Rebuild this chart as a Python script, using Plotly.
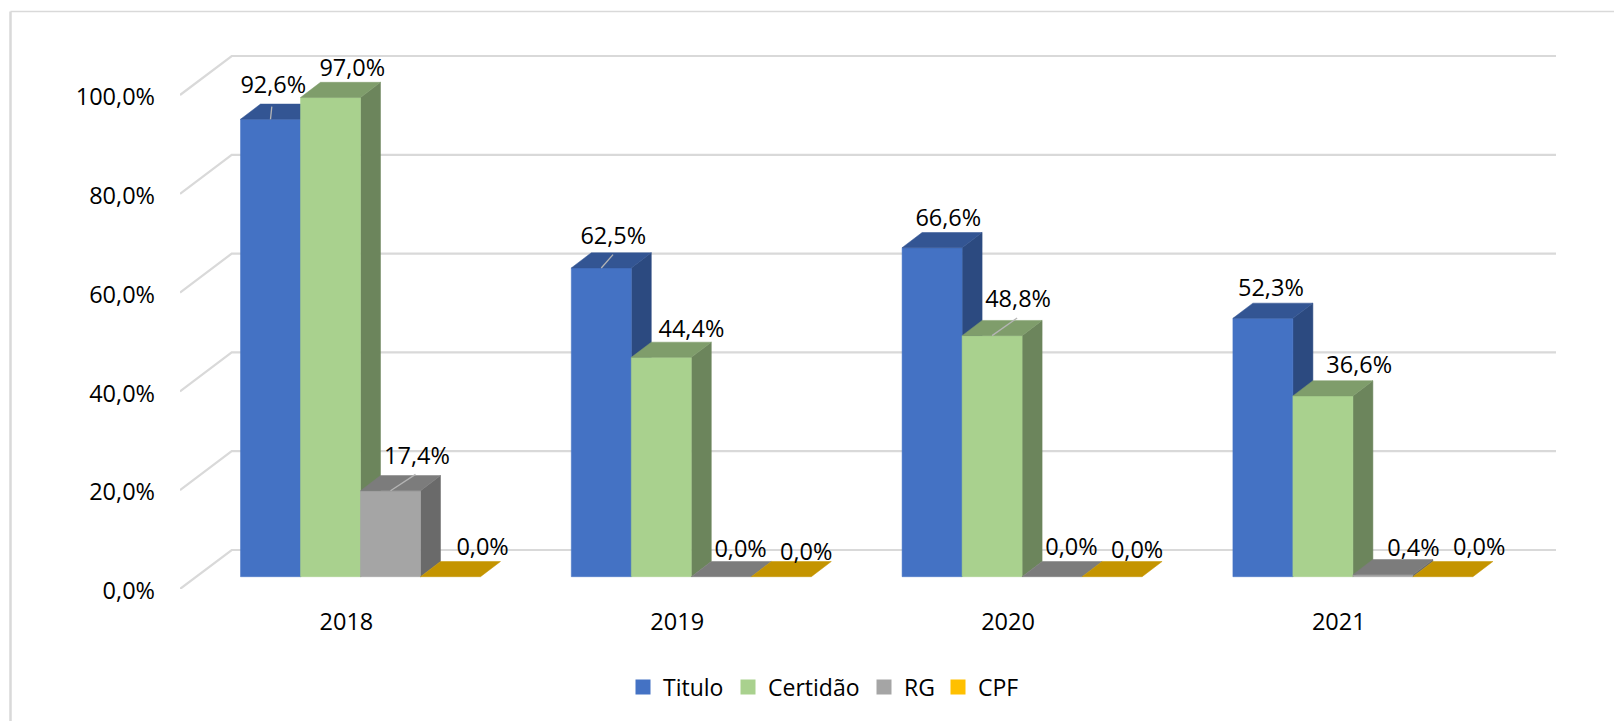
import plotly.graph_objects as go

# ---- data ----
years = ["2018", "2019", "2020", "2021"]
titulo = [92.6, 62.5, 66.6, 52.3]
certidao = [97.0, 44.4, 48.8, 36.6]
rg = [17.4, 0.0, 0.0, 0.4]
cpf = [0.0, 0.0, 0.0, 0.0]
series_names = ["Titulo", "Certidão", "RG", "CPF"]
y_ticks = [0, 20, 40, 60, 80, 100]

# ---- styles ----
front_col = ["#4472C4", "#A9D18E", "#A5A5A5", "#FFC000"]
top_col = ["#335593", "#7F9D6B", "#7C7C7C", "#C49400"]
side_col = ["#2C4A80", "#6C855C", "#6A6A6A", "#A67C00"]
FONT = "Open Sans"
GRID = "#D9D9D9"

# ---- geometry (pixels of the page) ----
W, H = 1614, 721
P_L, P_R, P_B, P_T = 180, 1556, 589, 50
PX_CAT = 330.8          # pixels per category
PX_PCT = 4.94           # pixels per percent
BAR_W = 60.0 / PX_CAT
BAR_START = 60.5 / PX_CAT
BASE = 12.3 / PX_PCT
DEPTH_X, DEPTH_Y = 20 / PX_CAT, 15.2 / PX_PCT
WALL_X, WALL_Y = 51.7 / PX_CAT, 39.0 / PX_PCT

# label offsets from each bar's front-top centre, pixels, per series then year
label_dx = [[2.8, 12, 16.2, 8], [21.8, 30.1, 26, 36.3], [26.5, 19.3, 19.3, 30.6], [32.1, 25, 25, 36.3]]
label_dy = [[32.4, 29.8, 28, 28.6], [27.1, 26.6, 34.6, 29], [32.2, 25.6, 27.6, 24.6], [27.6, 22.5, 24.5, 27.6]]
# leader lines: (series, year) -> pixel offset of the far end
leaders = {(0, 0): (1.3, 12.6), (0, 1): (11.7, 13.3), (1, 2): (25, 17.7), (2, 0): (25, 16.4)}

fig = go.Figure()


def poly(xs, ys, color):
    fig.add_trace(go.Scatter(
        x=xs + xs[:1], y=ys + ys[:1], mode="lines", fill="toself", fillcolor=color,
        line=dict(color=color, width=0.5), showlegend=False, hoverinfo="skip"))


# gridlines on the side and back walls
x_left = -0.5
x_right = -0.5 + (P_R - P_L) / PX_CAT
for t in y_ticks:
    fig.add_trace(go.Scatter(
        x=[x_left, x_left + WALL_X, x_right], y=[t, t + WALL_Y, t + WALL_Y],
        mode="lines", line=dict(color=GRID, width=2.2), showlegend=False, hoverinfo="skip"))

values = [titulo, certidao, rg, cpf]

# bars: side, top and front faces, painted left to right
for c in range(len(years)):
    for s in range(len(values)):
        v = values[s][c]
        x0 = c - 0.5 + BAR_START + s * BAR_W
        x1 = x0 + BAR_W
        top = BASE + v
        if v > 0:
            poly([x1, x1 + DEPTH_X, x1 + DEPTH_X, x1],
                 [BASE, BASE + DEPTH_Y, top + DEPTH_Y, top], side_col[s])
            poly([x0, x1, x1, x0], [BASE, BASE, top, top], front_col[s])
        # the zero-height faces still show their top
        poly([x0, x1, x1 + DEPTH_X, x0 + DEPTH_X],
             [top, top, top + DEPTH_Y, top + DEPTH_Y], top_col[s])

# leader lines
for (s, c), (dx, dy) in leaders.items():
    xc = c - 0.5 + BAR_START + (s + 0.5) * BAR_W
    yt = BASE + values[s][c]
    fig.add_trace(go.Scatter(
        x=[xc, xc + dx / PX_CAT], y=[yt, yt + dy / PX_PCT], mode="lines",
        line=dict(color="#B5B5B5", width=1.3), showlegend=False, hoverinfo="skip"))

# data labels
for s in range(len(values)):
    xs, ys, txt = [], [], []
    for c in range(len(years)):
        v = values[s][c]
        xs.append(c - 0.5 + BAR_START + (s + 0.5) * BAR_W + label_dx[s][c] / PX_CAT)
        ys.append(BASE + v + label_dy[s][c] / PX_PCT)
        txt.append(f"{v:.1f}%".replace(".", ","))
    fig.add_trace(go.Scatter(
        x=xs, y=ys, text=txt, mode="text", textposition="middle center",
        textfont=dict(family=FONT, size=23.5, color="#000000"),
        showlegend=False, hoverinfo="skip"))

# legend: one legend per entry so the spacing can follow the reference
legend_x = [635, 740, 876, 950]
layout_legends = {}
for s, name in enumerate(series_names):
    key = "legend" if s == 0 else f"legend{s + 1}"
    fig.add_trace(go.Scatter(
        x=[None], y=[None], mode="markers", name=name, legend=key,
        marker=dict(symbol="square", size=15, color=front_col[s]), showlegend=True))
    layout_legends[key] = dict(
        x=(legend_x[s] - 12 - P_L) / (P_R - P_L), y=(P_B - 687) / (P_B - P_T),
        xanchor="left", yanchor="middle", orientation="h",
        bgcolor="rgba(0,0,0,0)", font=dict(family=FONT, size=23, color="#000000"),
        itemclick=False, itemdoubleclick=False)

fig.update_layout(
    width=W, height=H,
    margin=dict(l=P_L, r=W - P_R, t=P_T, b=H - P_B, autoexpand=False),
    paper_bgcolor="#FFFFFF", plot_bgcolor="#FFFFFF",
    font=dict(family=FONT, size=23, color="#000000"),
    xaxis=dict(
        range=[x_left, x_right], tickmode="array", tickvals=list(range(len(years))),
        ticktext=years, showgrid=False, zeroline=False, showline=False, ticks="",
        ticklabelstandoff=16, ticklabelshift=1, tickfont=dict(family=FONT, size=23.5), fixedrange=True),
    yaxis=dict(
        range=[0, (P_B - P_T) / PX_PCT], tickmode="array", tickvals=y_ticks,
        ticktext=[f"{t:.1f}%".replace(".", ",") for t in y_ticks],
        showgrid=False, zeroline=False, showline=False, ticks="",
        ticklabelstandoff=24, ticklabelshift=2, tickfont=dict(family=FONT, size=23.5), fixedrange=True),
    shapes=[
        dict(type="line", xref="paper", yref="paper",
             x0=(10.5 - P_L) / (P_R - P_L), x1=(W - P_L) / (P_R - P_L),
             y0=(P_B - 11.5) / (P_B - P_T), y1=(P_B - 11.5) / (P_B - P_T),
             line=dict(color=GRID, width=1.5)),
        dict(type="line", xref="paper", yref="paper",
             x0=(10.5 - P_L) / (P_R - P_L), x1=(10.5 - P_L) / (P_R - P_L),
             y0=(P_B - 11.5) / (P_B - P_T), y1=(P_B - H) / (P_B - P_T),
             line=dict(color=GRID, width=2.5)),
    ],
    **layout_legends,
)

fig.write_html("out.html", config={"displayModeBar": False},
               post_script="document.body.style.margin='0';")
